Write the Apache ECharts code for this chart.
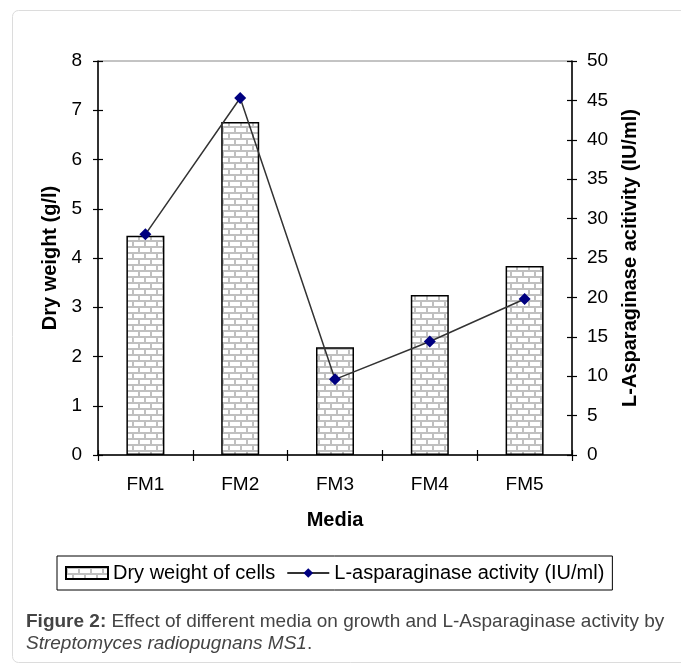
<!DOCTYPE html>
<html>
<head>
<meta charset="utf-8">
<script src="https://cdn.jsdelivr.net/npm/echarts@6/dist/echarts.min.js"></script>
<style>
html,body{margin:0;padding:0;background:#fff;}
#chart{width:681px;height:668px;}
</style>
</head>
<body>
<div id="chart"></div>
<script>
const categories = ['FM1', 'FM2', 'FM3', 'FM4', 'FM5'];
const dryWeight = [4.45, 6.76, 2.19, 3.25, 3.84];
const activity = [28.0, 45.3, 9.6, 14.4, 19.8];
const leftTicks = { min: 0, max: 8, interval: 1 };
const rightTicks = { min: 0, max: 50, interval: 5 };

const FONT = "'Liberation Sans', Arial, sans-serif";

// brick pattern
const pc = document.createElement('canvas');
pc.width = 12; pc.height = 12;
const g = pc.getContext('2d');
g.fillStyle = '#ffffff'; g.fillRect(0, 0, 12, 12);
g.fillStyle = '#c0c0c0';
g.fillRect(0, 0, 12, 2);
g.fillRect(0, 6, 12, 2);
g.fillRect(0, 0, 2, 6);
g.fillRect(6, 6, 2, 6);

const chart = echarts.init(document.getElementById('chart'), null, { renderer: 'canvas' });

const tickLabel = { color: '#000', fontSize: 19, fontFamily: FONT };
const axisName = { color: '#000', fontSize: 20, fontWeight: 'bold', fontFamily: FONT };

chart.setOption({
  backgroundColor: '#fff',
  animation: false,
  textStyle: { fontFamily: FONT },
  grid: { left: 98, right: 109, top: 61, bottom: 213, show: true, borderColor: '#888', borderWidth: 1, backgroundColor: 'transparent' },
  legend: {
    left: 57, top: 556,
    padding: [7, 8, 7, 8],
    borderColor: '#000', borderWidth: 1,
    itemWidth: 42, itemHeight: 12, itemGap: 11,
    textStyle: { color: '#000', fontSize: 20, fontFamily: FONT, padding: [0, 0, 0, 0] },
    data: [
      { name: 'Dry weight of cells', icon: 'rect' },
      { name: 'L-asparaginase activity (IU/ml)' }
    ]
  },
  xAxis: [
    {
      type: 'category', data: categories, position: 'bottom',
      name: 'Media', nameLocation: 'middle', nameGap: 55, nameTextStyle: axisName,
      axisLine: { lineStyle: { color: '#000', width: 1.5 } },
      axisTick: { show: true, length: 6, lineStyle: { color: '#000', width: 1.2 } },
      axisLabel: Object.assign({ margin: 20 }, tickLabel),
      splitLine: { show: false }
    },
    {
      type: 'category', data: categories, position: 'bottom', gridIndex: 0,
      axisLine: { show: false },
      axisTick: { show: true, inside: true, length: 5, lineStyle: { color: '#000', width: 1.2 } },
      axisLabel: { show: false },
      splitLine: { show: false }
    }
  ],
  yAxis: [
    {
      type: 'value', position: 'left', min: leftTicks.min, max: leftTicks.max, interval: leftTicks.interval,
      name: 'Dry weight (g/l)', nameLocation: 'middle', nameGap: 38, nameRotate: 90, nameTextStyle: axisName,
      axisLine: { show: true, lineStyle: { color: '#000', width: 1.5 } },
      axisTick: { show: true, length: 5, lineStyle: { color: '#000', width: 1.2 } },
      axisLabel: Object.assign({ margin: 16 }, tickLabel),
      splitLine: { show: false }
    },
    {
      type: 'value', position: 'right', min: rightTicks.min, max: rightTicks.max, interval: rightTicks.interval,
      name: 'L-Asparaginase acitivity (IU/ml)', nameLocation: 'middle', nameGap: 48, nameRotate: 90, nameTextStyle: axisName,
      axisLine: { show: true, lineStyle: { color: '#000', width: 1.5 } },
      axisTick: { show: true, length: 5, lineStyle: { color: '#000', width: 1.2 } },
      axisLabel: Object.assign({ margin: 15 }, tickLabel),
      splitLine: { show: false }
    },
    {
      type: 'value', position: 'left', min: leftTicks.min, max: leftTicks.max, interval: leftTicks.interval,
      axisLine: { show: false },
      axisTick: { show: true, inside: true, length: 5, lineStyle: { color: '#000', width: 1.2 } },
      axisLabel: { show: false }, splitLine: { show: false }
    },
    {
      type: 'value', position: 'right', min: rightTicks.min, max: rightTicks.max, interval: rightTicks.interval,
      axisLine: { show: false },
      axisTick: { show: true, inside: true, length: 5, lineStyle: { color: '#000', width: 1.2 } },
      axisLabel: { show: false }, splitLine: { show: false }
    }
  ],
  series: [
    {
      name: 'Dry weight of cells', type: 'bar', xAxisIndex: 0, yAxisIndex: 0,
      data: dryWeight, barWidth: 38,
      itemStyle: { color: { image: pc, repeat: 'repeat' }, borderColor: '#000', borderWidth: 1.5 },
      z: 2
    },
    {
      name: 'L-asparaginase activity (IU/ml)', type: 'line', xAxisIndex: 0, yAxisIndex: 1,
      data: activity,
      symbol: 'diamond', symbolSize: 12,
      lineStyle: { color: '#333', width: 1.5 },
      itemStyle: { color: '#000080' },
      z: 5
    }
  ],
  graphic: [
    {
      type: 'rect', left: 10, top: 8, z: -1,
      shape: { width: 690, height: 652, r: 6 },
      style: { fill: 'none', stroke: '#dcdcdc', lineWidth: 1 }
    },
    {
      type: 'text', left: 26, top: 612,
      style: {
        text: '{b|Figure 2:} Effect of different media on growth and L-Asparaginase activity by',
        fill: '#444', font: "19px 'Liberation Sans', Arial, sans-serif",
        rich: { b: { fontWeight: 'bold', fontSize: 19, fill: '#444', fontFamily: FONT } }
      }
    },
    {
      type: 'text', left: 26, top: 634,
      style: {
        text: '{i|Streptomyces radiopugnans MS1}.',
        fill: '#444', font: "19px 'Liberation Sans', Arial, sans-serif",
        rich: { i: { fontStyle: 'italic', fontSize: 19, fill: '#444', fontFamily: FONT } }
      }
    }
  ]
});
</script>
</body>
</html>
